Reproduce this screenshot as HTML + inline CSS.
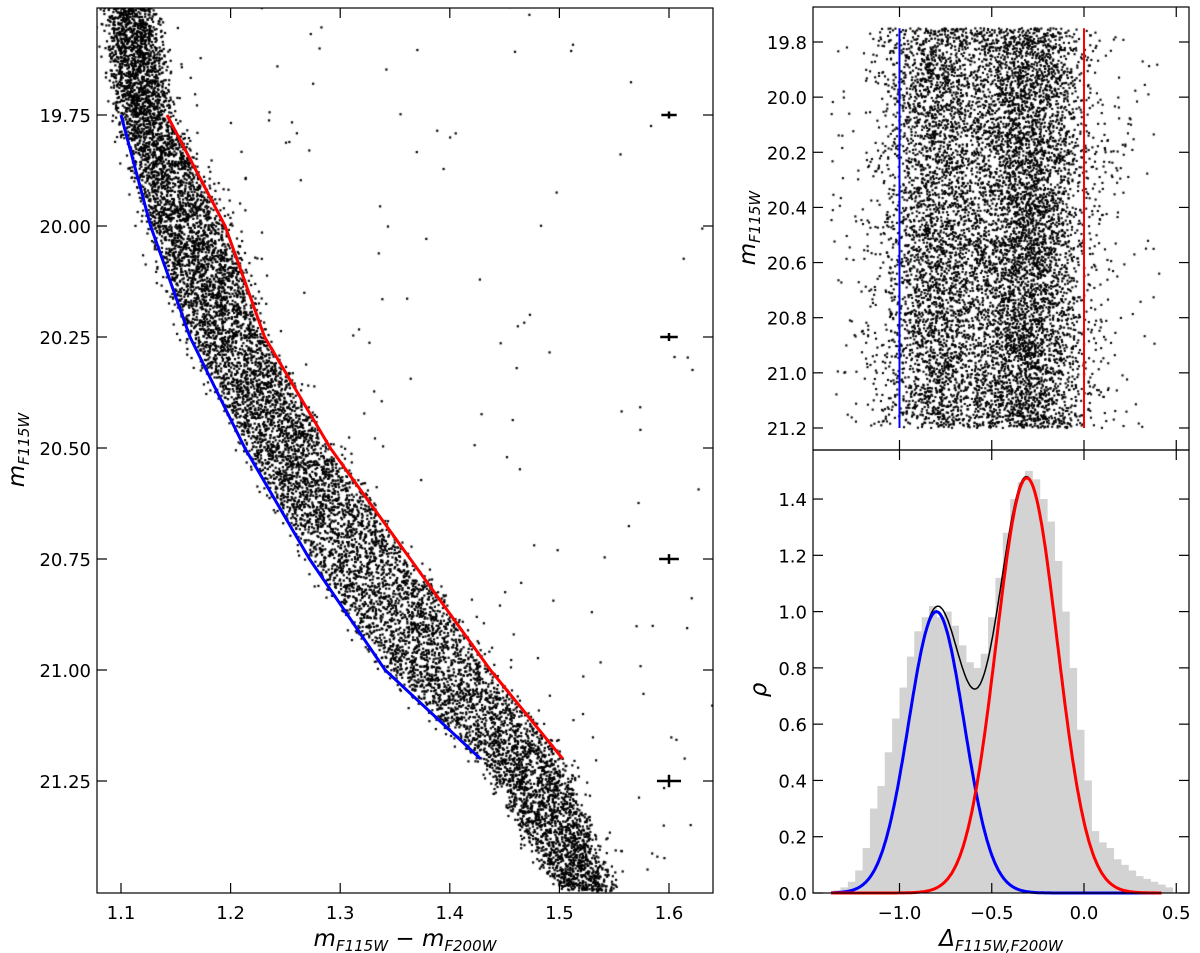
<!DOCTYPE html>
<html><head><meta charset="utf-8">
<style>
body{margin:0;background:#fff;}
#wrap{position:relative;width:1200px;height:953px;overflow:hidden;background:#fff;}
canvas,svg{position:absolute;left:0;top:0;}
text{font-family:"DejaVu Sans","Liberation Sans",sans-serif;fill:#000;}
</style></head>
<body>
<div id="wrap">
<canvas id="cv" width="1200" height="953"></canvas>
<svg id="sv" width="1200" height="953"></svg>
</div>
<script>
// ---- data ----
const cmdMags = [19.75, 20.0, 20.25, 20.5, 20.75, 21.0, 21.2];
const blueFiducial = [1.100, 1.127, 1.163, 1.213, 1.272, 1.341, 1.428];
const redFiducial  = [1.142, 1.195, 1.231, 1.291, 1.364, 1.437, 1.503];
const ridgeMags   = [19.5, 19.75, 20.0, 20.25, 20.5, 20.75, 21.0, 21.2, 21.5];
const ridgeColors = [1.108, 1.121, 1.161, 1.197, 1.252, 1.318, 1.389, 1.466, 1.525];
const ridgeHalfWidth = [0.018, 0.021, 0.034, 0.034, 0.039, 0.046, 0.048, 0.038, 0.024];
const errMags = [19.75, 20.25, 20.75, 21.25];
const errX = [0.007, 0.008, 0.009, 0.011];
const errY = [0.008, 0.009, 0.011, 0.014];
const histLeft = [-1.36,-1.32,-1.28,-1.24,-1.20,-1.16,-1.12,-1.08,-1.04,-1.00,-0.96,-0.92,-0.88,-0.84,-0.80,-0.76,-0.72,-0.68,-0.64,-0.60,-0.56,-0.52,-0.48,-0.44,-0.40,-0.36,-0.32,-0.28,-0.24,-0.20,-0.16,-0.12,-0.08,-0.04,0.00,0.04,0.08,0.12,0.16,0.20,0.24,0.28,0.32,0.36,0.40,0.44];
const histVals = [0.01,0.02,0.04,0.08,0.16,0.30,0.38,0.50,0.62,0.73,0.84,0.93,0.98,1.02,0.98,1.00,0.95,0.88,0.82,0.80,0.85,0.98,1.12,1.28,1.40,1.46,1.50,1.47,1.40,1.32,1.18,1.00,0.80,0.58,0.40,0.22,0.18,0.16,0.12,0.10,0.08,0.06,0.05,0.04,0.03,0.02];
const gaussAmp = [1.0, 1.475];
const gaussMean = [-0.80, -0.31];
const gaussSigma = [0.150, 0.165];
const xTicksL = [1.1,1.2,1.3,1.4,1.5,1.6];
const yTicksL = [19.75,20.0,20.25,20.5,20.75,21.0,21.25];
const yTicksTR = [19.8,20.0,20.2,20.4,20.6,20.8,21.0,21.2];
const xTicksR = [-1.0,-0.5,0.0,0.5];
const yTicksBR = [0.0,0.2,0.4,0.6,0.8,1.0,1.2,1.4];

// ---- axes ----
const L={x0:97,x1:713,y0:8,y1:893}; const lx=v=>121+(v-1.1)*1096, ly=v=>115+(v-19.75)*444;
const R={x0:813,x1:1189}; const rx=v=>1084+v*184.5;
const TR={y0:7,y1:450}; const try_=v=>42+(v-19.8)*275.7;
const BR={y0:450,y1:893}; const bry=v=>893-v*281.4;

const NS="http://www.w3.org/2000/svg"; const sv=document.getElementById('sv');
function el(tag,attrs,parent){const e=document.createElementNS(NS,tag);for(const k in attrs)e.setAttribute(k,attrs[k]);(parent||sv).appendChild(e);return e;}
function interp(xs,ys,v){if(v<=xs[0])return ys[0]+(v-xs[0])*(ys[1]-ys[0])/(xs[1]-xs[0]);for(let i=1;i<xs.length;i++)if(v<=xs[i])return ys[i-1]+(v-xs[i-1])*(ys[i]-ys[i-1])/(xs[i]-xs[i-1]);const n=xs.length;return ys[n-1]+(v-xs[n-1])*(ys[n-1]-ys[n-2])/(xs[n-1]-xs[n-2]);}

// ---- deterministic star cloud (mulberry32) ----
let seed=12345;
function rnd(){seed|=0;seed=seed+0x6D2B79F5|0;let t=Math.imul(seed^seed>>>15,1|seed);t=t+Math.imul(t^t>>>7,61|t)^t;return((t^t>>>14)>>>0)/4294967296;}
function gauss(){let u=rnd()||1e-9,v=rnd();return Math.sqrt(-2*Math.log(u))*Math.cos(2*Math.PI*v);}
const cv=document.getElementById('cv').getContext('2d'); cv.fillStyle='#000';
cv.save();cv.beginPath();cv.rect(L.x0,L.y0,L.x1-L.x0,L.y1-L.y0);cv.clip();
for(let i=0;i<11000;i++){const m=19.5+rnd()*2.0;const hw=interp(ridgeMags,ridgeHalfWidth,m);const c=interp(ridgeMags,ridgeColors,m)+(rnd()*2-1)*hw*0.95+gauss()*0.007;cv.fillRect(lx(c)-1.1,ly(m)-1.1,2.2,2.2);}
for(let i=0;i<220;i++){const m=19.5+rnd()*2.0;const c=interp(ridgeMags,ridgeColors,m)+0.04+Math.pow(rnd(),2)*0.45;cv.fillRect(lx(c)-1.1,ly(m)-1.1,2.2,2.2);}
cv.restore();
for(let i=0;i<9500;i++){const m=19.75+rnd()*1.45;let d;const r=rnd();if(r<0.38)d=gaussMean[0]+gauss()*gaussSigma[0];else if(r<0.96)d=gaussMean[1]+gauss()*gaussSigma[1];else d=-1.38+rnd()*1.78;if(d<-1.38||d>0.42)continue;cv.fillRect(rx(d)-1,try_(m)-1,2.1,2.1);}

// ---- left panel ----
const gL=el('g',{});
function poly(xs,ys,fx,fy,col,w,name,parent){const p=xs.map((v,i)=>fx(v).toFixed(1)+','+fy(ys[i]).toFixed(1)).join(' ');const e=el('polyline',{points:p,fill:'none',stroke:col,'stroke-width':w,'stroke-linejoin':'round',},parent);return e;}
poly(blueFiducial,cmdMags,lx,ly,'#0000ff',3,'blue-fiducial-line',gL);
poly(redFiducial,cmdMags,lx,ly,'#ff0000',3,'red-fiducial-line',gL);
errMags.forEach((m,i)=>{const g=el('g',{},gL);el('line',{x1:lx(1.6-errX[i]),x2:lx(1.6+errX[i]),y1:ly(m),y2:ly(m),stroke:'#000','stroke-width':2.5},g);el('line',{x1:lx(1.6),x2:lx(1.6),y1:ly(m-errY[i]),y2:ly(m+errY[i]),stroke:'#000','stroke-width':2.5},g);});
el('rect',{x:L.x0,y:L.y0,width:L.x1-L.x0,height:L.y1-L.y0,fill:'none',stroke:'#000','stroke-width':1.2,},gL);
xTicksL.forEach(v=>{const x=lx(v);el('line',{x1:x,x2:x,y1:L.y1,y2:L.y1-10,stroke:'#000','stroke-width':1.2},gL);el('line',{x1:x,x2:x,y1:L.y0,y2:L.y0+10,stroke:'#000','stroke-width':1.2},gL);const t=el('text',{x:x,y:L.y1+26,'font-size':18,'text-anchor':'middle',},gL);t.textContent=v.toFixed(1);});
yTicksL.forEach(v=>{const y=ly(v);el('line',{x1:L.x0,x2:L.x0+10,y1:y,y2:y,stroke:'#000','stroke-width':1.2},gL);el('line',{x1:L.x1,x2:L.x1-10,y1:y,y2:y,stroke:'#000','stroke-width':1.2},gL);const t=el('text',{x:L.x0-6,y:y+7,'font-size':18,'text-anchor':'end',},gL);t.textContent=v.toFixed(2);});
let t=el('text',{x:405,y:946,'font-size':23,'text-anchor':'middle','font-style':'italic',},gL);
t.innerHTML='m<tspan font-size="15" dy="5">F115W</tspan><tspan dy="-5"> − m</tspan><tspan font-size="15" dy="5">F200W</tspan>';
t=el('text',{x:0,y:0,'font-size':23,'text-anchor':'middle','font-style':'italic',transform:'translate(24,450) rotate(-90)',},gL);
t.innerHTML='m<tspan font-size="15" dy="5">F115W</tspan>';

// ---- top-right ----
const gT=el('g',{});
el('line',{x1:rx(-1),x2:rx(-1),y1:try_(19.75),y2:try_(21.2),stroke:'#0000ff','stroke-width':2,},gT);
el('line',{x1:rx(0),x2:rx(0),y1:try_(19.75),y2:try_(21.2),stroke:'#ff0000','stroke-width':2,},gT);
el('rect',{x:R.x0,y:TR.y0,width:R.x1-R.x0,height:TR.y1-TR.y0,fill:'none',stroke:'#000','stroke-width':1.2,},gT);
yTicksTR.forEach(v=>{const y=try_(v);el('line',{x1:R.x0,x2:R.x0+10,y1:y,y2:y,stroke:'#000','stroke-width':1.2},gT);el('line',{x1:R.x1,x2:R.x1-10,y1:y,y2:y,stroke:'#000','stroke-width':1.2},gT);const t=el('text',{x:R.x0-6,y:y+7,'font-size':18,'text-anchor':'end',},gT);t.textContent=v.toFixed(1);});
xTicksR.forEach(v=>{const x=rx(v);el('line',{x1:x,x2:x,y1:TR.y0,y2:TR.y0+10,stroke:'#000','stroke-width':1.2},gT);el('line',{x1:x,x2:x,y1:TR.y1-10,y2:TR.y1+10,stroke:'#000','stroke-width':1.2},gT);});
t=el('text',{x:0,y:0,'font-size':23,'text-anchor':'middle','font-style':'italic',transform:'translate(755,228) rotate(-90)',},gT);
t.innerHTML='m<tspan font-size="15" dy="5">F115W</tspan>';

// ---- bottom-right ----
const gB=el('g',{});
const bw=0.04;
histLeft.forEach((v,i)=>{const b=el('rect',{x:rx(v),y:bry(histVals[i]),width:rx(v+bw)-rx(v)+0.5,height:bry(0)-bry(histVals[i]),fill:'#d3d3d3'},gB);

});
const xs=[];for(let v=-1.37;v<=0.42;v+=0.005)xs.push(v);
const gf=(k,v)=>gaussAmp[k]*Math.exp(-0.5*Math.pow((v-gaussMean[k])/gaussSigma[k],2));
poly(xs,xs.map(v=>gf(0,v)+gf(1,v)),rx,bry,'#000',1.5,'total-fit-curve',gB);
poly(xs,xs.map(v=>gf(0,v)),rx,bry,'#0000ff',3,'blue-gaussian',gB);
poly(xs,xs.map(v=>gf(1,v)),rx,bry,'#ff0000',3,'red-gaussian',gB);
el('rect',{x:R.x0,y:BR.y0,width:R.x1-R.x0,height:BR.y1-BR.y0,fill:'none',stroke:'#000','stroke-width':1.2,},gB);
yTicksBR.forEach(v=>{const y=bry(v);el('line',{x1:R.x0,x2:R.x0+10,y1:y,y2:y,stroke:'#000','stroke-width':1.2},gB);el('line',{x1:R.x1,x2:R.x1-10,y1:y,y2:y,stroke:'#000','stroke-width':1.2},gB);const t=el('text',{x:R.x0-6,y:y+7,'font-size':18,'text-anchor':'end',},gB);t.textContent=v.toFixed(1);});
xTicksR.forEach(v=>{const x=rx(v);el('line',{x1:x,x2:x,y1:BR.y1,y2:BR.y1-10,stroke:'#000','stroke-width':1.2},gB);const t=el('text',{x:x,y:BR.y1+26,'font-size':18,'text-anchor':'middle',},gB);t.textContent=(v<0?'−':'')+Math.abs(v).toFixed(1);});
t=el('text',{x:0,y:0,'font-size':23,'text-anchor':'middle','font-style':'italic',transform:'translate(766,690) rotate(-90)',},gB);
t.textContent='ρ';
t=el('text',{x:1001,y:946,'font-size':23,'text-anchor':'middle','font-style':'italic',},gB);
t.innerHTML='Δ<tspan font-size="15" dy="5">F115W,F200W</tspan>';
</script>
</body></html>
